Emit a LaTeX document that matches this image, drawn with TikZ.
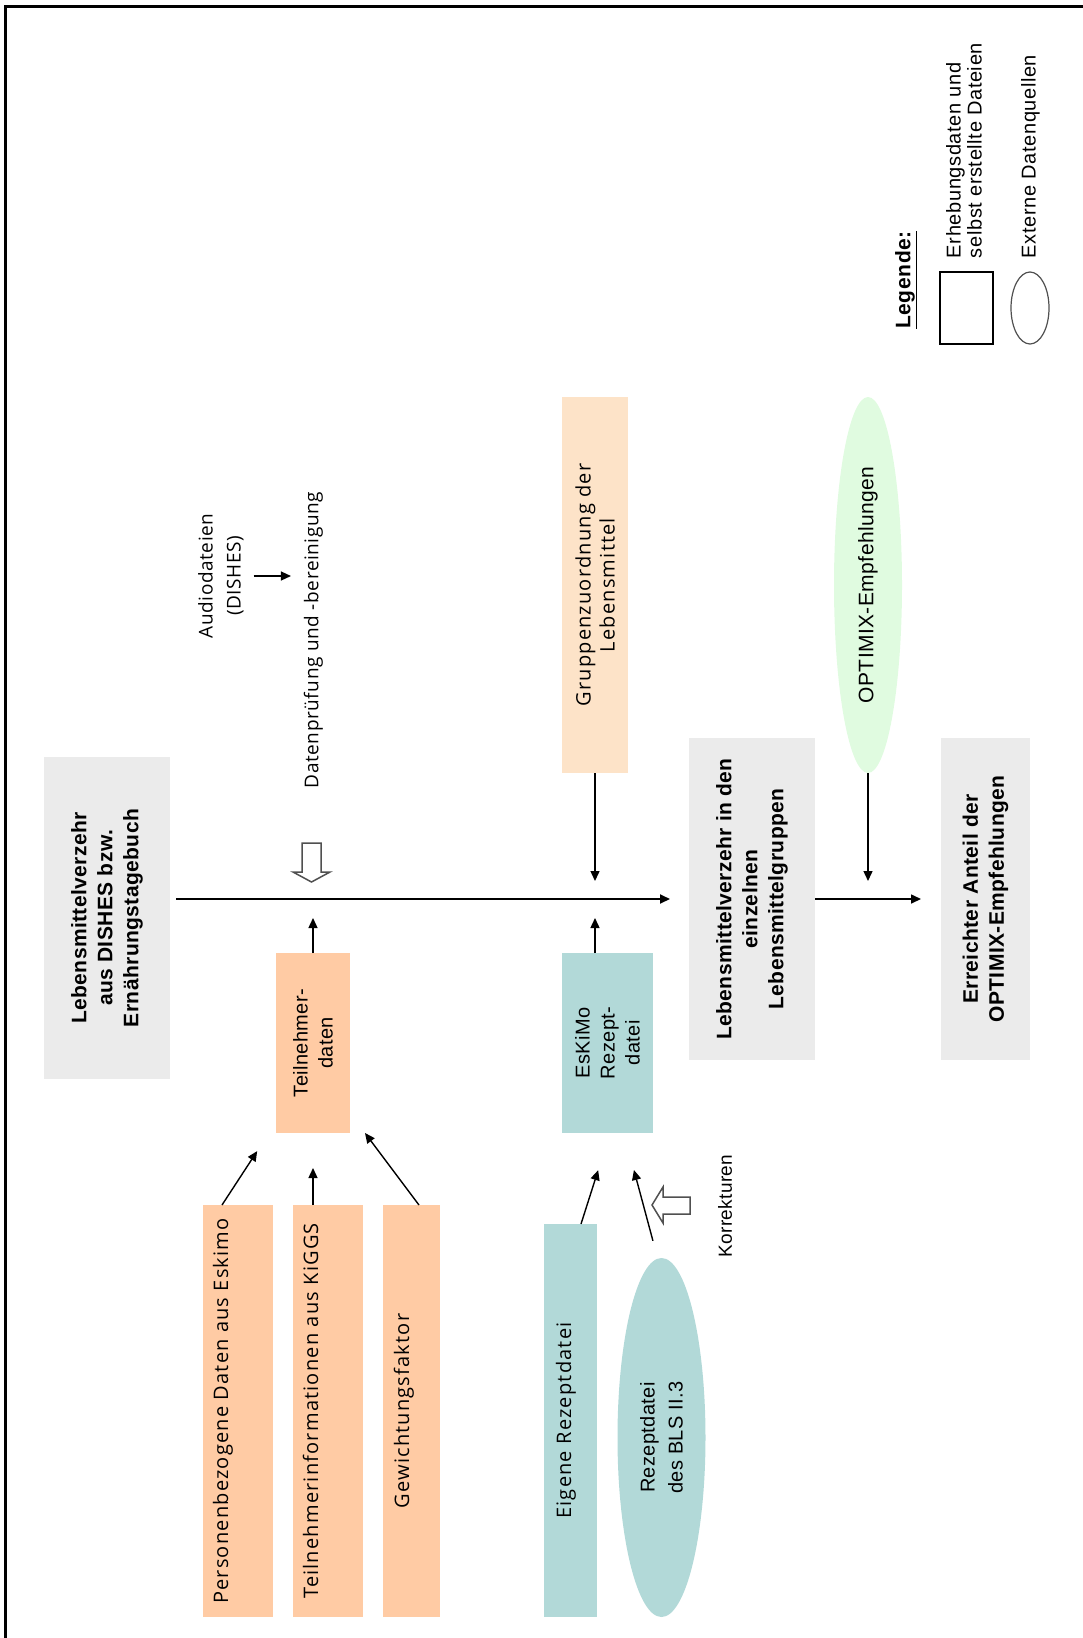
\documentclass[tikz,border=0pt]{standalone}
\usepackage{fontspec}
\setmainfont{Liberation Sans}
\newfontfamily\arialsp[LetterSpace=2]{Liberation Sans}
\newfontfamily\legfont[LetterSpace=3]{Liberation Sans}
\newfontfamily\humsp[LetterSpace=6]{Open Sans}
\newfontfamily\humlabel[LetterSpace=3]{Open Sans}
\usetikzlibrary{arrows.meta,shapes.geometric,calc}

\definecolor{grayfill}{HTML}{EBEBEB}
\definecolor{peachfill}{HTML}{FFCBA4}
\definecolor{lightpeach}{HTML}{FDE3C8}
\definecolor{tealfill}{HTML}{B2D9D8}
\definecolor{mintfill}{HTML}{E0FBE0}
\definecolor{hollowgray}{HTML}{505050}

\tikzset{
  rbox/.style={rectangle, rotate=90, inner sep=0pt, outer sep=0pt, align=center},
  graybox/.style={rbox, fill=grayfill, font=\arialsp\bfseries\fontsize{21}{26}\selectfont},
  peachbox/.style={rbox, fill=peachfill},
  tealbox/.style={rbox, fill=tealfill},
  roundtext/.style={font=\humsp\fontsize{20}{24}\selectfont},
  plaintext/.style={font=\arialsp\fontsize{20}{25}\selectfont},
  rtext/.style={rotate=90, inner sep=0pt, outer sep=0pt, align=center},
  arr/.style={-{Triangle[length=10pt,width=9pt]}, line width=1.4pt},
  hollow/.style={draw=hollowgray, fill=white, line width=1.5pt, line join=miter},
}

\begin{document}
\begin{tikzpicture}[x=1pt,y=-1pt]
\useasboundingbox (0,0) rectangle (1083,1638);

% frame (left and top edges)
\draw[line width=3pt, line join=miter] (5,1645) -- (5,6.5) -- (1090,6.5);

% main flow boxes
\node[graybox, minimum width=322pt, minimum height=126pt] (A) at (107,918)
  {Lebensmittelverzehr\\aus DISHES bzw.\\Ernährungstagebuch};
\node[graybox, minimum width=322pt, minimum height=126pt] (B) at (752,899)
  {Lebensmittelverzehr in den\\einzelnen\\Lebensmittelgruppen};
\node[graybox, minimum width=322pt, minimum height=89pt] (C) at (985.5,899)
  {Erreichter Anteil der\\OPTIMIX-Empfehlungen};

% external source and grouping
\node[ellipse, rotate=90, fill=mintfill, inner sep=0pt, minimum width=376pt, minimum height=68pt,
      font=\arialsp\fontsize{21}{24}\selectfont] (O) at (868,585) {OPTIMIX-Empfehlungen};
\node[rbox, fill=lightpeach, minimum width=376pt, minimum height=66pt, roundtext] (G) at (595,585)
  {Gruppenzuordnung der\\Lebensmittel};

% participant data and recipe file
\node[peachbox, minimum width=180pt, minimum height=74pt, plaintext] (T) at (313,1043)
  {Teilnehmer-\\daten};
\node[tealbox, minimum width=180pt, minimum height=91pt, plaintext] (E) at (607.5,1043)
  {EsKiMo\\Rezept-\\datei};

% input files
\node[peachbox, minimum width=412pt, text height=25pt, text depth=45pt, roundtext] (P1) at (238,1411)
  {Personenbezogene Daten aus Eskimo};
\node[peachbox, minimum width=412pt, text height=25pt, text depth=45pt, roundtext] (P2) at (328,1411)
  {Teilnehmerinformationen aus KiGGS};
\node[peachbox, minimum width=412pt, text height=26pt, text depth=31pt, roundtext] (P3) at (411.5,1411)
  {Gewichtungsfaktor};
\node[tealbox, minimum width=393pt, text height=27pt, text depth=26pt, roundtext] (Ei) at (570.5,1420.5)
  {Eigene Rezeptdatei};
\node[ellipse, rotate=90, fill=tealfill, inner sep=0pt, minimum width=359pt, minimum height=88pt,
      align=center, font=\arialsp\fontsize{20}{28}\selectfont] (Bl) at (661.5,1437.5)
  {Rezeptdatei\\des BLS II.3};

% free labels
\node[rtext, font=\humlabel\fontsize{19}{28}\selectfont] (Au) at (221,576) {Audiodateien\\(DISHES)};
\node[rtext, font=\humlabel\fontsize{19}{22}\selectfont] (D) at (313.5,640) {Datenprüfung und -bereinigung};
\node[rtext, font=\arialsp\fontsize{19}{22}\selectfont] (Ko) at (725,1206) {Korrekturen};

% connectors
\draw[arr, line width=1.8pt, shorten <=6pt, shorten >=19pt] (A.south |- B.center) -- (B.north);
\draw[arr, line width=1.6pt, shorten >=20pt] (B.south) -- (C.north);
\draw[arr, shorten >=18pt] (O.west) -- (O.west |- B.center);
\draw[arr, shorten >=18pt] (G.west) -- (G.west |- B.center);
\draw[arr, shorten >=19pt] (T.east) -- (T.east |- B.center);
\draw[arr, shorten >=19pt] (G.west |- E.east) -- (G.west |- B.center);
\draw[arr, shorten <=10pt, shorten >=13pt] (Au.south) -- (Au.south -| D.north);

\draw[arr, shorten >=21.6pt] ([xshift=-16pt]P1.east) -- ([xshift=-44pt]T.west);
\draw[arr, shorten >=35pt] (T.west |- P2.east) -- (T.west);
\draw[arr] ([xshift=7.5pt]P3.east) -- ([xshift=52pt]T.west);
\draw[arr, shorten >=39pt] ([xshift=10.5pt]Ei.east) -- ([xshift=2.5pt]E.west);
\draw[arr, shorten <=17.6pt, shorten >=38.3pt] ([xshift=-4pt]Bl.east) -- ([xshift=16.5pt]E.west);

% hollow block arrows
\draw[hollow] (302,843) -- (321,843) -- (321,872) -- (330,872) -- (311.5,882) -- (293,872) -- (302,872) -- cycle;
\draw[hollow] (652,1205) -- (663,1187) -- (663,1197) -- (690,1197) -- (690,1214) -- (663,1214) -- (663,1223) -- cycle;

% legend
\node[rtext, font=\legfont\bfseries\fontsize{21}{24}\selectfont] (legH) at (906,280) {\underline{Legende:}};
\node[draw, line width=1.5pt, minimum width=53pt, minimum height=72pt, inner sep=0pt] (legR) at (966.5,308) {};
\node[ellipse, draw=hollowgray, line width=1.2pt, minimum width=38pt, minimum height=72pt, inner sep=0pt] (legE) at (1030,308) {};
\node[rtext, anchor=west, align=left, font=\legfont\fontsize{20}{21}\selectfont] (legT1) at (964,258)
  {Erhebungsdaten und\\selbst erstellte Dateien};
\node[rtext, anchor=west, align=left, font=\legfont\fontsize{20}{21}\selectfont] (legT2) at (1030.5,258)
  {Externe Datenquellen};
\end{tikzpicture}
\end{document}
